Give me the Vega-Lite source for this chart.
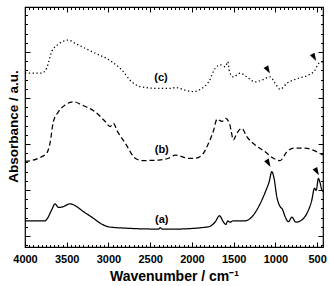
{
  "$schema": "https://vega.github.io/schema/vega-lite/v6.json",
  "width": 298,
  "height": 240,
  "autosize": "none",
  "padding": {"left": 25, "top": 7, "right": 7, "bottom": 39},
  "background": "white",
  "config": {
    "view": {"stroke": "black", "strokeWidth": 1.2},
    "font": "Liberation Sans",
    "axis": {
      "grid": false,
      "domain": false,
      "tickColor": "black",
      "tickWidth": 1,
      "labelColor": "black",
      "labelFont": "Liberation Sans",
      "labelFontWeight": "bold",
      "labelFontSize": 11,
      "titleColor": "black",
      "titleFont": "Liberation Sans",
      "titleFontWeight": "bold"
    }
  },
  "datasets": {
    "spectra": [
      {"s": "a", "w": 4000, "y": 0.33}, {"s": "a", "w": 3760, "y": 0.33}, {"s": "a", "w": 3740, "y": 0.36}, {"s": "a", "w": 3680, "y": 0.57}, {"s": "a", "w": 3640, "y": 0.70}, {"s": "a", "w": 3600, "y": 0.62}, {"s": "a", "w": 3540, "y": 0.64}, {"s": "a", "w": 3460, "y": 0.70}, {"s": "a", "w": 3400, "y": 0.66}, {"s": "a", "w": 3300, "y": 0.53}, {"s": "a", "w": 3200, "y": 0.41}, {"s": "a", "w": 3100, "y": 0.28}, {"s": "a", "w": 3000, "y": 0.20}, {"s": "a", "w": 2800, "y": 0.17}, {"s": "a", "w": 2400, "y": 0.15}, {"s": "a", "w": 2380, "y": 0.18}, {"s": "a", "w": 2360, "y": 0.15}, {"s": "a", "w": 2200, "y": 0.15}, {"s": "a", "w": 1800, "y": 0.20}, {"s": "a", "w": 1720, "y": 0.31}, {"s": "a", "w": 1670, "y": 0.44}, {"s": "a", "w": 1625, "y": 0.31}, {"s": "a", "w": 1595, "y": 0.25}, {"s": "a", "w": 1570, "y": 0.33}, {"s": "a", "w": 1545, "y": 0.30}, {"s": "a", "w": 1505, "y": 0.33}, {"s": "a", "w": 1360, "y": 0.33}, {"s": "a", "w": 1280, "y": 0.42}, {"s": "a", "w": 1200, "y": 0.64}, {"s": "a", "w": 1120, "y": 0.96}, {"s": "a", "w": 1075, "y": 1.18}, {"s": "a", "w": 1043, "y": 1.40}, {"s": "a", "w": 1016, "y": 1.25}, {"s": "a", "w": 983, "y": 0.85}, {"s": "a", "w": 944, "y": 0.64}, {"s": "a", "w": 916, "y": 0.58}, {"s": "a", "w": 884, "y": 0.42}, {"s": "a", "w": 844, "y": 0.31}, {"s": "a", "w": 803, "y": 0.41}, {"s": "a", "w": 755, "y": 0.30}, {"s": "a", "w": 683, "y": 0.35}, {"s": "a", "w": 623, "y": 0.49}, {"s": "a", "w": 564, "y": 0.78}, {"s": "a", "w": 532, "y": 1.04}, {"s": "a", "w": 512, "y": 0.99}, {"s": "a", "w": 485, "y": 1.25}, {"s": "a", "w": 464, "y": 1.15}, {"s": "a", "w": 444, "y": 1.00}, {"s": "a", "w": 430, "y": 0.97},
      {"s": "b", "w": 4000, "y": 1.62}, {"s": "b", "w": 3840, "y": 1.69}, {"s": "b", "w": 3740, "y": 1.80}, {"s": "b", "w": 3700, "y": 2.02}, {"s": "b", "w": 3660, "y": 2.49}, {"s": "b", "w": 3600, "y": 2.70}, {"s": "b", "w": 3520, "y": 2.85}, {"s": "b", "w": 3420, "y": 2.92}, {"s": "b", "w": 3320, "y": 2.85}, {"s": "b", "w": 3160, "y": 2.70}, {"s": "b", "w": 3040, "y": 2.49}, {"s": "b", "w": 2980, "y": 2.38}, {"s": "b", "w": 2940, "y": 2.45}, {"s": "b", "w": 2900, "y": 2.30}, {"s": "b", "w": 2800, "y": 2.02}, {"s": "b", "w": 2680, "y": 1.69}, {"s": "b", "w": 2600, "y": 1.64}, {"s": "b", "w": 2400, "y": 1.65}, {"s": "b", "w": 2280, "y": 1.69}, {"s": "b", "w": 2200, "y": 1.76}, {"s": "b", "w": 2040, "y": 1.69}, {"s": "b", "w": 1960, "y": 1.69}, {"s": "b", "w": 1880, "y": 1.76}, {"s": "b", "w": 1800, "y": 2.02}, {"s": "b", "w": 1740, "y": 2.30}, {"s": "b", "w": 1700, "y": 2.54}, {"s": "b", "w": 1640, "y": 2.49}, {"s": "b", "w": 1595, "y": 2.56}, {"s": "b", "w": 1545, "y": 2.41}, {"s": "b", "w": 1503, "y": 2.09}, {"s": "b", "w": 1463, "y": 2.23}, {"s": "b", "w": 1403, "y": 2.34}, {"s": "b", "w": 1343, "y": 2.16}, {"s": "b", "w": 1243, "y": 1.98}, {"s": "b", "w": 1123, "y": 1.83}, {"s": "b", "w": 1024, "y": 1.69}, {"s": "b", "w": 944, "y": 1.64}, {"s": "b", "w": 863, "y": 1.83}, {"s": "b", "w": 784, "y": 1.91}, {"s": "b", "w": 644, "y": 1.91}, {"s": "b", "w": 504, "y": 1.83}, {"s": "b", "w": 430, "y": 1.76},
      {"s": "c", "w": 4000, "y": 3.54}, {"s": "c", "w": 3800, "y": 3.54}, {"s": "c", "w": 3740, "y": 3.65}, {"s": "c", "w": 3680, "y": 4.01}, {"s": "c", "w": 3600, "y": 4.17}, {"s": "c", "w": 3480, "y": 4.26}, {"s": "c", "w": 3400, "y": 4.19}, {"s": "c", "w": 3200, "y": 4.01}, {"s": "c", "w": 2960, "y": 3.79}, {"s": "c", "w": 2840, "y": 3.61}, {"s": "c", "w": 2720, "y": 3.35}, {"s": "c", "w": 2620, "y": 3.25}, {"s": "c", "w": 2400, "y": 3.21}, {"s": "c", "w": 2240, "y": 3.21}, {"s": "c", "w": 2200, "y": 3.23}, {"s": "c", "w": 2080, "y": 3.17}, {"s": "c", "w": 1980, "y": 3.14}, {"s": "c", "w": 1880, "y": 3.21}, {"s": "c", "w": 1800, "y": 3.35}, {"s": "c", "w": 1720, "y": 3.65}, {"s": "c", "w": 1660, "y": 3.72}, {"s": "c", "w": 1600, "y": 3.68}, {"s": "c", "w": 1570, "y": 3.79}, {"s": "c", "w": 1550, "y": 3.57}, {"s": "c", "w": 1503, "y": 3.46}, {"s": "c", "w": 1423, "y": 3.54}, {"s": "c", "w": 1343, "y": 3.46}, {"s": "c", "w": 1243, "y": 3.35}, {"s": "c", "w": 1163, "y": 3.39}, {"s": "c", "w": 1063, "y": 3.46}, {"s": "c", "w": 1003, "y": 3.32}, {"s": "c", "w": 944, "y": 3.19}, {"s": "c", "w": 863, "y": 3.32}, {"s": "c", "w": 724, "y": 3.43}, {"s": "c", "w": 604, "y": 3.50}, {"s": "c", "w": 524, "y": 3.61}, {"s": "c", "w": 485, "y": 3.75}, {"s": "c", "w": 430, "y": 3.79}
    ],
    "markers": [
      {"s": "a", "w": 1084, "y": 1.58},
      {"s": "a", "w": 504, "y": 1.40},
      {"s": "c", "w": 1091, "y": 3.61},
      {"s": "c", "w": 536, "y": 3.885}
    ],
    "labels": [
      {"w": 2362, "y": 0.35, "t": "(a)"},
      {"w": 2362, "y": 1.87, "t": "(b)"},
      {"w": 2370, "y": 3.44, "t": "(c)"}
    ]
  },
  "layer": [
    {
      "data": {"name": "spectra"},
      "mark": {"type": "line", "color": "black", "strokeWidth": 1.25, "clip": true, "interpolate": "monotone"},
      "encoding": {
        "x": {
          "field": "w", "type": "quantitative",
          "scale": {"domain": [430, 4000], "reverse": true, "nice": false, "zero": false},
          "axis": {
            "orient": "bottom",
            "values": [4000, 3500, 3000, 2500, 2000, 1500, 1000, 500],
            "format": "d",
            "tickSize": -5,
            "labelPadding": 20,
            "labelBaseline": "alphabetic",
            "labelFlush": false,
            "title": "Wavenumber / cm⁻¹",
            "titleFontSize": 14,
            "titleBaseline": "alphabetic",
            "titleY": 33
          }
        },
        "y": {
          "field": "y", "type": "quantitative",
          "scale": {"domain": [-0.24, 4.98], "nice": false, "zero": false},
          "axis": {
            "orient": "left",
            "values": [0, 1, 2, 3, 4],
            "tickSize": -5,
            "labels": false,
            "title": "Absorbance / a.u.",
            "titleFontSize": 13.5,
            "titleBaseline": "middle",
            "titleX": -12,
            "titleY": 119
          }
        },
        "detail": {"field": "s"},
        "strokeDash": {
          "field": "s", "type": "nominal",
          "scale": {"domain": ["a", "b", "c"], "range": [[1, 0], [5, 3], [1.3, 2.5]]},
          "legend": null
        }
      }
    },
    {
      "data": {"name": "markers"},
      "transform": [{"filter": "datum.s === 'a'"}],
      "mark": {"type": "point", "shape": "M-0.55,-0.8L0.55,-0.8L0,0.85Z", "filled": true, "color": "black", "opacity": 1, "size": 95, "angle": 330},
      "encoding": {
        "x": {
          "field": "w", "type": "quantitative",
          "axis": {
            "orient": "bottom",
            "values": [4000, 3950, 3900, 3850, 3800, 3750, 3700, 3650, 3600, 3550, 3500, 3450, 3400, 3350, 3300, 3250, 3200, 3150, 3100, 3050, 3000, 2950, 2900, 2850, 2800, 2750, 2700, 2650, 2600, 2550, 2500, 2450, 2400, 2350, 2300, 2250, 2200, 2150, 2100, 2050, 2000, 1950, 1900, 1850, 1800, 1750, 1700, 1650, 1600, 1550, 1500, 1450, 1400, 1350, 1300, 1250, 1200, 1150, 1100, 1050, 1000, 950, 900, 850, 800, 750, 700, 650, 600, 550, 500, 450],
            "tickSize": -2.5,
            "labels": false,
            "title": null
          }
        },
        "y": {
          "field": "y", "type": "quantitative",
          "axis": {
            "orient": "left",
            "values": [-0.2, 0, 0.2, 0.4, 0.6, 0.8, 1, 1.2, 1.4, 1.6, 1.8, 2, 2.2, 2.4, 2.6, 2.8, 3, 3.2, 3.4, 3.6, 3.8, 4, 4.2, 4.4, 4.6, 4.8],
            "tickSize": -2.5,
            "labels": false,
            "title": null
          }
        }
      }
    },
    {
      "data": {"name": "markers"},
      "transform": [{"filter": "datum.s === 'c'"}],
      "mark": {"type": "point", "shape": "M-0.55,-0.8L0.55,-0.8L0,0.85Z", "filled": true, "color": "black", "opacity": 1, "size": 95, "angle": 330},
      "encoding": {
        "x": {
          "field": "w", "type": "quantitative",
          "axis": {
            "orient": "top",
            "values": [4000, 3950, 3900, 3850, 3800, 3750, 3700, 3650, 3600, 3550, 3500, 3450, 3400, 3350, 3300, 3250, 3200, 3150, 3100, 3050, 3000, 2950, 2900, 2850, 2800, 2750, 2700, 2650, 2600, 2550, 2500, 2450, 2400, 2350, 2300, 2250, 2200, 2150, 2100, 2050, 2000, 1950, 1900, 1850, 1800, 1750, 1700, 1650, 1600, 1550, 1500, 1450, 1400, 1350, 1300, 1250, 1200, 1150, 1100, 1050, 1000, 950, 900, 850, 800, 750, 700, 650, 600, 550, 500, 450],
            "tickSize": -2.5,
            "labels": false,
            "title": null
          }
        },
        "y": {
          "field": "y", "type": "quantitative",
          "axis": {
            "orient": "right",
            "values": [-0.2, 0, 0.2, 0.4, 0.6, 0.8, 1, 1.2, 1.4, 1.6, 1.8, 2, 2.2, 2.4, 2.6, 2.8, 3, 3.2, 3.4, 3.6, 3.8, 4, 4.2, 4.4, 4.6, 4.8],
            "tickSize": -2.5,
            "labels": false,
            "title": null
          }
        }
      }
    },
    {
      "data": {"name": "labels"},
      "mark": {"type": "text", "font": "Liberation Sans", "fontWeight": "bold", "fontSize": 11, "color": "black", "align": "center", "baseline": "middle"},
      "encoding": {
        "x": {
          "field": "w", "type": "quantitative",
          "axis": {
            "orient": "top",
            "values": [4000, 3500, 3000, 2500, 2000, 1500, 1000, 500],
            "tickSize": -5,
            "labels": false,
            "title": null
          }
        },
        "y": {
          "field": "y", "type": "quantitative",
          "axis": {
            "orient": "right",
            "values": [0, 1, 2, 3, 4],
            "tickSize": -5,
            "labels": false,
            "title": null
          }
        },
        "text": {"field": "t"}
      }
    }
  ],
  "resolve": {"axis": {"x": "independent", "y": "independent"}}
}
